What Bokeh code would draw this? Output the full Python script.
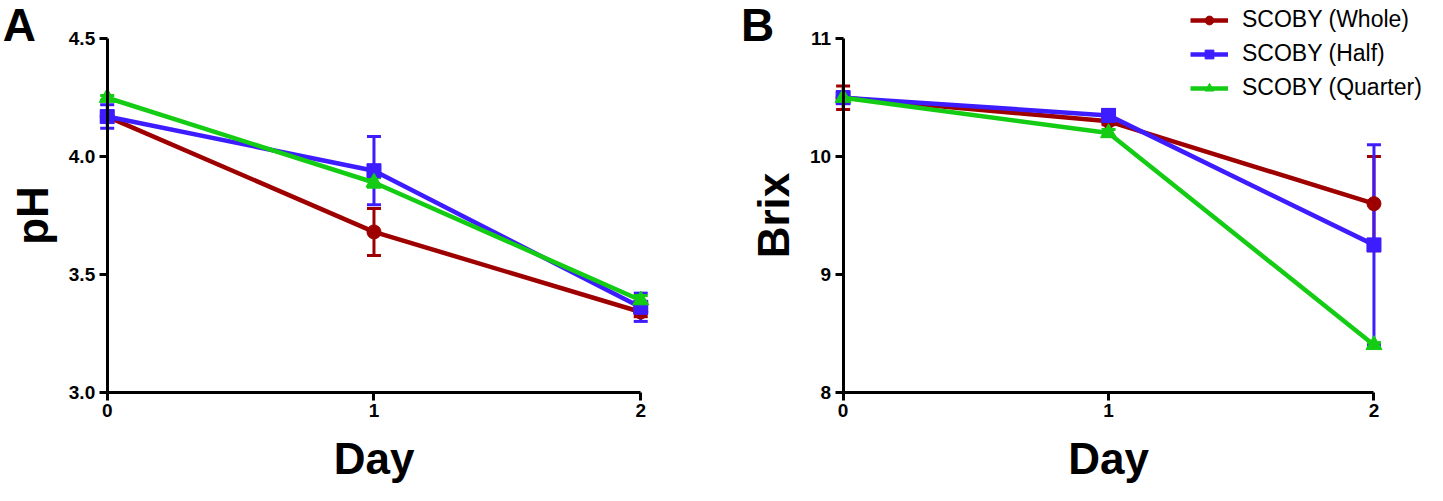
from bokeh.plotting import figure
from bokeh.layouts import row
from bokeh.models import (ColumnDataSource, Whisker, TeeHead, FixedTicker, Label,
                          Legend, LegendItem, Range1d)
from bokeh.embed import file_html
from bokeh.resources import INLINE

# ---------------- data ----------------
days = [0, 1, 2]
series_names = ["SCOBY (Whole)", "SCOBY (Half)", "SCOBY (Quarter)"]
colors = ["#9e0000", "#3d1cff", "#14cc14"]
markers = ["circle", "square", "triangle"]

ph_whole = [4.17, 3.68, 3.34]
ph_whole_err = [0.02, 0.10, 0.02]
ph_half = [4.17, 3.94, 3.36]
ph_half_err = [0.05, 0.145, 0.06]
ph_quarter = [4.25, 3.89, 3.39]
ph_quarter_err = [0.01, 0.02, 0.02]

brix_whole = [10.5, 10.3, 9.6]
brix_whole_err = [0.1, 0.03, 0.4]
brix_half = [10.5, 10.35, 9.25]
brix_half_err = [0.05, 0.05, 0.85]
brix_quarter = [10.5, 10.2, 8.4]
brix_quarter_err = [0.02, 0.03, 0.02]

x_ticks = [0, 1, 2]
x_tick_labels = ["0", "1", "2"]
ph_ticks = [3.0, 3.5, 4.0, 4.5]
ph_tick_labels = ["3.0", "3.5", "4.0", "4.5"]
brix_ticks = [8, 9, 10, 11]
brix_tick_labels = ["8", "9", "10", "11"]

FONT = "Liberation Sans"


def make_panel(vals, errs, ticks, tick_labels, ylabel, letter, width, x_rng, y_rng,
               letter_pos, legend_loc=None):
    y0, y1 = ticks[0], ticks[-1]
    p = figure(width=width, height=501, title=None,
               x_range=Range1d(*x_rng), y_range=Range1d(*y_rng),
               output_backend="svg", toolbar_location=None,
               min_border=0, min_border_left=0, min_border_right=0,
               min_border_top=0, min_border_bottom=0)
    p.outline_line_color = None
    p.xgrid.visible = False
    p.ygrid.visible = False
    p.background_fill_color = "white"
    p.border_fill_color = "white"

    p.xaxis.fixed_location = y0
    p.yaxis.fixed_location = x_ticks[0]
    p.xaxis.bounds = (x_ticks[0], x_ticks[-1])
    p.yaxis.bounds = (y0, y1)
    p.xaxis.ticker = FixedTicker(ticks=x_ticks, minor_ticks=[])
    p.yaxis.ticker = FixedTicker(ticks=ticks, minor_ticks=[])
    p.xaxis.major_label_overrides = {t: l for t, l in zip(x_ticks, x_tick_labels)}
    p.yaxis.major_label_overrides = {t: l for t, l in zip(ticks, tick_labels)}
    for ax in (p.xaxis, p.yaxis):
        ax.axis_line_width = 3
        ax.axis_line_color = "black"
        ax.major_tick_line_width = 3
        ax.major_tick_line_color = "black"
        ax.major_tick_out = 8
        ax.major_tick_in = 0
        ax.minor_tick_line_color = None
        ax.major_label_text_font = FONT
        ax.major_label_text_font_style = "bold"
        ax.major_label_text_font_size = "19px"
        ax.major_label_text_color = "black"
        ax.major_label_standoff = 4
        ax.axis_label_text_font = FONT
        ax.axis_label_text_font_style = "bold"
        ax.axis_label_text_font_size = "44px"
        ax.axis_label_text_color = "black"
    p.xaxis.axis_label = "Day"
    p.xaxis.axis_label_standoff = 13
    p.yaxis.axis_label = ylabel
    p.yaxis.axis_label_standoff = 9

    # error bars first
    for v, e, c in zip(vals, errs, colors):
        src = ColumnDataSource(dict(x=days,
                                    upper=[a + b for a, b in zip(v, e)],
                                    lower=[a - b for a, b in zip(v, e)]))
        w = Whisker(base="x", upper="upper", lower="lower", source=src,
                    line_color=c, line_width=3,
                    upper_head=TeeHead(size=14, line_color=c, line_width=3),
                    lower_head=TeeHead(size=14, line_color=c, line_width=3))
        p.add_layout(w)

    items = []
    for v, c, m, name in zip(vals, colors, markers, series_names):
        lr = p.line(days, v, line_color=c, line_width=4.5)
        sr = p.scatter(days, v, marker=m, size=14 if m != "triangle" else 16,
                       fill_color=c, line_color=c)
        items.append(LegendItem(label=name, renderers=[lr, sr]))

    if legend_loc is not None:
        leg = Legend(items=items, location=legend_loc, padding=0, margin=0,
                     border_line_color=None, background_fill_alpha=0,
                     label_text_font=FONT, label_text_font_size="23px",
                     label_text_color="black", glyph_width=38, glyph_height=22,
                     label_height=22, spacing=7, label_standoff=14)
        p.add_layout(leg)

    p.add_layout(Label(x=letter_pos[0], y=letter_pos[1], text=letter, text_font=FONT,
                       text_font_style="bold", text_font_size="46px",
                       text_baseline="alphabetic", text_color="black"))
    return p


pA = make_panel([ph_whole, ph_half, ph_quarter],
                [ph_whole_err, ph_half_err, ph_quarter_err],
                ph_ticks, ph_tick_labels, "pH", "A", 720,
                (-0.4, 2.299), (2.535, 4.663), (-0.392, 4.561))

pB = make_panel([brix_whole, brix_half, brix_quarter],
                [brix_whole_err, brix_half_err, brix_quarter_err],
                brix_ticks, brix_tick_labels, "Brix", "B", 723,
                (-0.462, 2.262), (7.070, 11.326), (-0.385, 11.122),
                legend_loc=(470, 400))

layout = row(pA, pB)
open("out.html", "w").write(file_html(layout, INLINE))
